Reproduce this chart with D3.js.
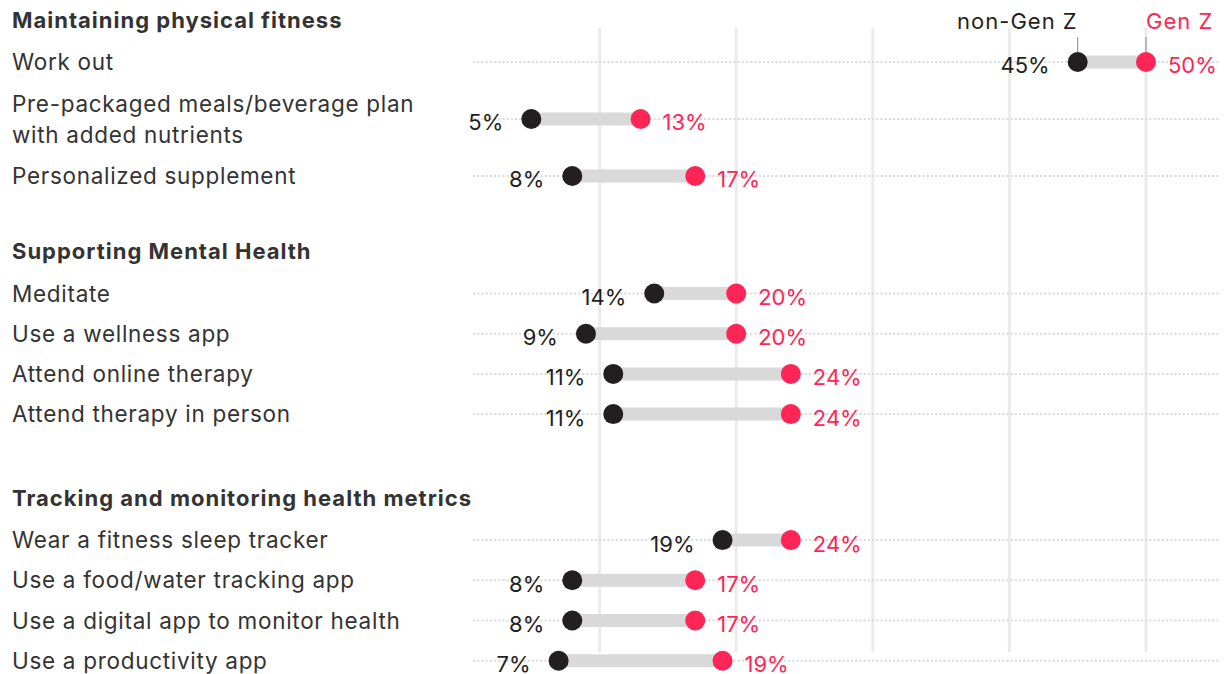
<!DOCTYPE html>
<html>
<head>
<meta charset="utf-8">
<script src="https://cdn.jsdelivr.net/npm/d3@7"></script>
<style>
  html, body { margin: 0; padding: 0; background: #ffffff; }
  svg { display: block; font-family: Inter, "Noto Sans", sans-serif; }
</style>
</head>
<body>
<svg id="chart" width="1226" height="674"></svg>
<script>
// ---- data ----
const sections = ["Maintaining physical fitness", "Supporting Mental Health", "Tracking and monitoring health metrics"];
const categories = [
  "Work out",
  "Pre-packaged meals/beverage plan\nwith added nutrients",
  "Personalized supplement",
  "Meditate",
  "Use a wellness app",
  "Attend online therapy",
  "Attend therapy in person",
  "Wear a fitness sleep tracker",
  "Use a food/water tracking app",
  "Use a digital app to monitor health",
  "Use a productivity app"
];
const categorySection = [0, 0, 0, 1, 1, 1, 1, 2, 2, 2, 2];
const nonGenZ = [45, 5, 8, 14, 9, 11, 11, 19, 8, 8, 7];
const genZ = [50, 13, 17, 20, 20, 24, 24, 24, 17, 17, 19];
const gridTicks = [10, 20, 30, 40, 50];
const seriesNames = ["non-Gen Z", "Gen Z"];

// ---- style ----
const C_BLACK = "#231f20";
const C_RED = "#ff2556";
const C_BAR = "#d9d9d9";
const C_TEXT = "#333333";

const svg = d3.select("#chart");
const x = d3.scaleLinear().domain([0, 50]).range([463, 1146]);

// layout along y, computed from item kinds
const sectionGap = [0, 75.5, 84];
const items = [];
let cursor = 20;
let prevSection = -1, prevWrapped = false;
categories.forEach((c, i) => {
  const wrapped = c.includes("\n");
  const s = categorySection[i];
  if (s !== prevSection) {
    if (prevSection !== -1) cursor += sectionGap[s];
    items.push({ type: "heading", label: sections[s], y: cursor });
    cursor += 42;
    prevSection = s;
  } else {
    cursor += (wrapped || prevWrapped) ? 57 : 40.2;
  }
  items.push({ type: "row", i, label: c, y: cursor });
  prevWrapped = wrapped;
});
const y = d3.scaleIdentity();

const rows = items.filter(d => d.type === "row");
const heads = items.filter(d => d.type === "heading");

// gridlines
svg.append("g").selectAll("line").data(gridTicks).join("line")
  .attr("x1", d => x(d)).attr("x2", d => x(d))
  .attr("y1", 28).attr("y2", 652)
  .attr("stroke", "#ebebeb").attr("stroke-width", 3);

// dotted row lines
svg.append("g").selectAll("line").data(rows).join("line")
  .attr("x1", 473).attr("x2", 1220)
  .attr("y1", d => y(d.y)).attr("y2", d => y(d.y))
  .attr("stroke", "#dcdcdc").attr("stroke-width", 2)
  .attr("stroke-dasharray", "2.2,2");

// headings
svg.append("g").selectAll("text").data(heads).join("text")
  .attr("x", 12).attr("y", d => y(d.y)).attr("dy", "0.36em")
  .attr("font-size", 22).attr("font-weight", 700).attr("fill", C_TEXT)
  .attr("letter-spacing", 1)
  .text(d => d.label);

// category labels
const cl = svg.append("g").selectAll("text").data(rows).join("text")
  .attr("x", 12).attr("font-size", 22.5).attr("fill", C_TEXT)
  .attr("letter-spacing", 0.7);
cl.each(function (d) {
  const lines = d.label.split("\n");
  const t = d3.select(this);
  lines.forEach((ln, k) => {
    t.append("tspan").attr("x", 12)
      .attr("y", y(d.y) + (k - (lines.length - 1) / 2) * 31)
      .attr("dy", "0.36em").text(ln);
  });
});

// bars
svg.append("g").selectAll("line").data(rows).join("line")
  .attr("x1", d => x(nonGenZ[d.i])).attr("x2", d => x(genZ[d.i]))
  .attr("y1", d => y(d.y)).attr("y2", d => y(d.y))
  .attr("stroke", C_BAR).attr("stroke-width", 13);

// legend tick lines on first row
const first = rows[0];
svg.append("g").selectAll("line").data([nonGenZ[first.i], genZ[first.i]]).join("line")
  .attr("x1", d => x(d)).attr("x2", d => x(d))
  .attr("y1", 37).attr("y2", y(first.y) - 8)
  .attr("stroke", "#8a8a8a").attr("stroke-width", 1);

// dots
svg.append("g").selectAll("circle").data(rows).join("circle")
  .attr("cx", d => x(nonGenZ[d.i])).attr("cy", d => y(d.y)).attr("r", 10)
  .attr("fill", C_BLACK);
svg.append("g").selectAll("circle").data(rows).join("circle")
  .attr("cx", d => x(genZ[d.i])).attr("cy", d => y(d.y)).attr("r", 10)
  .attr("fill", C_RED);

// value labels
svg.append("g").selectAll("text").data(rows).join("text")
  .attr("x", d => x(nonGenZ[d.i]) - 28).attr("y", d => y(d.y) + 3.5).attr("dy", "0.36em")
  .attr("text-anchor", "end").attr("font-size", 22).attr("fill", C_BLACK)
  .text(d => nonGenZ[d.i] + "%");
svg.append("g").selectAll("text").data(rows).join("text")
  .attr("x", d => x(genZ[d.i]) + 22).attr("y", d => y(d.y) + 3.5).attr("dy", "0.36em")
  .attr("text-anchor", "start").attr("font-size", 22).attr("fill", C_RED)
  .text(d => genZ[d.i] + "%");

// series labels
svg.append("text").attr("x", x(nonGenZ[first.i])).attr("y", 29)
  .attr("text-anchor", "end").attr("font-size", 22).attr("fill", C_BLACK)
  .attr("letter-spacing", 1)
  .text(seriesNames[0]);
svg.append("text").attr("x", x(genZ[first.i])).attr("y", 29)
  .attr("text-anchor", "start").attr("font-size", 22).attr("fill", C_RED)
  .attr("letter-spacing", 1)
  .text(seriesNames[1]);
</script>
</body>
</html>
